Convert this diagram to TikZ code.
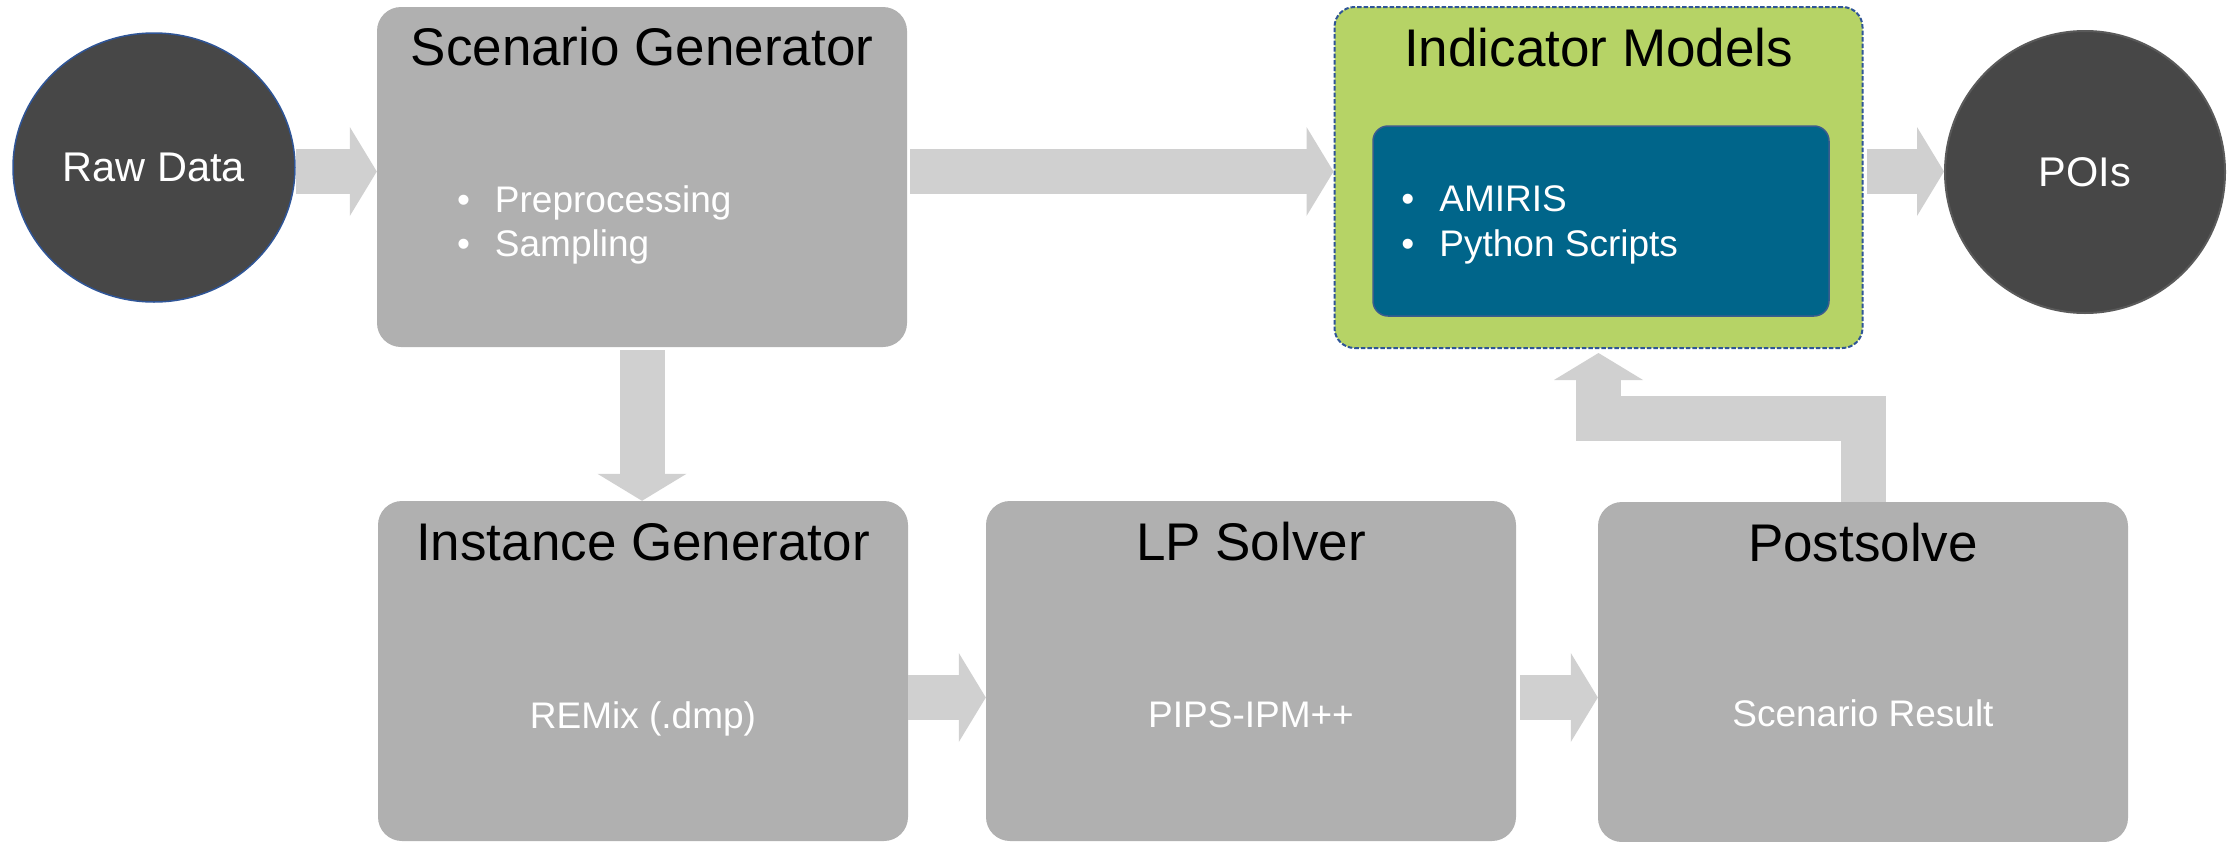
\documentclass[tikz,border=0pt]{standalone}
\usepackage{fontspec}
\setmainfont{Liberation Sans}
\usetikzlibrary{shapes.geometric,arrows.meta}

\definecolor{boxgray}{HTML}{B0B0B0}
\definecolor{flowgray}{HTML}{D0D0D0}
\definecolor{darkdisc}{HTML}{474747}
\definecolor{discblue}{HTML}{2F5597}
\definecolor{poiedge}{HTML}{5A5A5A}
\definecolor{limegreen}{HTML}{B6D366}
\definecolor{dashblue}{HTML}{2F5597}
\definecolor{petrol}{HTML}{00658A}
\definecolor{petroledge}{HTML}{3A5C8E}

\begin{document}
\begin{tikzpicture}[x=1pt,y=-1pt,
  stage/.style={fill=boxgray, rounded corners=24pt, minimum width=530pt,
    minimum height=340pt, inner sep=0pt},
  disc/.style={ellipse, fill=darkdisc, inner sep=0pt, text=white,
    font=\fontsize{41.5}{49}\selectfont},
  title/.style={anchor=base, inner sep=0pt, text=black,
    font=\fontsize{53}{60}\selectfont},
  body/.style={anchor=base, inner sep=0pt, text=white,
    font=\fontsize{37}{44}\selectfont},
  item/.style={anchor=base west, inner sep=0pt, text=white,
    font=\fontsize{37}{44}\selectfont},
  flow/.style={draw=flowgray, line width=45pt,
    -{Triangle[width=89pt,length=27pt,line width=0pt]}},
]
\fill[white] (0,0) rectangle (2239,841);
\useasboundingbox (0,0) rectangle (2239,841);

% helper rows for the arrow axes
\coordinate (rowA) at (0,171.5);
\coordinate (rowB) at (0,697.5);
\coordinate (bend) at (0,418.5);

% end points of the pipeline
\node[disc, draw=discblue, line width=1.5pt, minimum width=282pt,
  minimum height=269pt] (raw) at (154,167.5) {Raw Data};
\node[disc, draw=poiedge, line width=2pt, minimum width=280pt,
  minimum height=282pt] (poi) at (2085,172) {POIs};

% processing stages
\node[stage] (sg) at (642,177) {};
\node[stage] (ig) at (643,671) {};
\node[stage] (lp) at (1251,671) {};
\node[stage] (ps) at (1863,672) {};

% indicator models with the tool box inside
\node[fill=limegreen, draw=dashblue, line width=2pt,
  dash pattern=on 4.5pt off 2pt, rounded corners=20pt, minimum width=528pt,
  minimum height=341pt, inner sep=0pt] (im) at (1598.5,177.5) {};
\node[fill=petrol, draw=petroledge, line width=1.5pt, rounded corners=15pt,
  minimum width=456pt, minimum height=190pt, inner sep=0pt]
  (tools) at (1601,221) {};

% stage titles
\node[title] (sgt) at ([yshift=-59pt]sg.north) {Scenario Generator};
\node[title] (igt) at ([yshift=-60pt]ig.north) {Instance Generator};
\node[title] (lpt) at ([yshift=-60pt]lp.north) {LP Solver};
\node[title] (pst) at ([yshift=-60pt]ps.north) {Postsolve};
\node[title] (imt) at ([yshift=-60pt]im.north) {Indicator Models};

% stage contents
\node[item] (sg1) at ([xshift=80pt,yshift=-206pt]sg.north west)
  {\makebox[38pt][l]{•}Preprocessing};
\node[item] (sg2) at ([xshift=80pt,yshift=-250pt]sg.north west)
  {\makebox[38pt][l]{•}Sampling};
\node[item] (im1) at ([xshift=29pt,yshift=-86pt]tools.north west)
  {\makebox[38pt][l]{•}AMIRIS};
\node[item] (im2) at ([xshift=29pt,yshift=-131pt]tools.north west)
  {\makebox[38pt][l]{•}Python Scripts};
\node[body] (igb) at ([yshift=-228pt]ig.north) {REMix (.dmp)};
\node[body] (lpb) at ([yshift=-227pt]lp.north) {PIPS-IPM++};
\node[body] (psb) at ([yshift=-225pt]ps.north) {Scenario Result};

% data flow
\draw[flow] (raw.east |- rowA) -- (sg.west |- rowA);
\draw[flow, shorten <=3pt] (sg.east |- rowA) -- (im.west |- rowA);
\draw[flow, shorten <=3pt] (im.east |- rowA) -- (poi.west |- rowA);
\draw[flow, shorten <=3pt] (sg.south) -- (sg.south |- ig.north);
\draw[flow] (ig.east |- rowB) -- (lp.west |- rowB);
\draw[flow, shorten <=4pt] (lp.east |- rowB) -- (ps.west |- rowB);
\draw[flow, shorten >=4pt] (ps.north) -- (ps.north |- bend) -| (im.south);
\end{tikzpicture}
\end{document}
